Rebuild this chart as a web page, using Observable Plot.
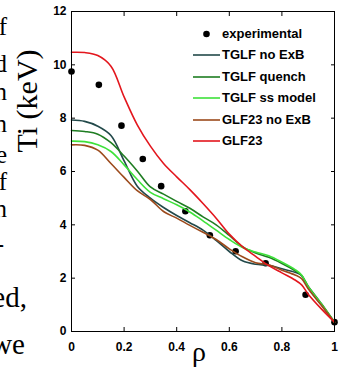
<!DOCTYPE html>
<html>
<head>
<meta charset="utf-8">
<script src="https://cdn.jsdelivr.net/npm/d3@7"></script>
<script src="https://cdn.jsdelivr.net/npm/@observablehq/plot@0.6"></script>
<style>
  html, body { margin: 0; padding: 0; background: #fff; overflow: hidden; }
  #wrap { position: relative; width: 342px; height: 367px; overflow: hidden; }
  #chart { position: absolute; left: 0; top: 0; }
  .frag { position: absolute; font-family: "Liberation Serif", "Times New Roman", serif; white-space: nowrap; line-height: 1; color: #000; }
  .leg { position: absolute; font: bold 13px "Liberation Sans", Arial, sans-serif; color: #000; white-space: nowrap; line-height: 16px; height: 16px; }
  .sw { position: absolute; }
</style>
</head>
<body>
<div id="wrap">
  <div id="chart"></div>
</div>
<script>
// ---------- data ----------
const rho = [0, 0.05, 0.1, 0.15, 0.2, 0.25, 0.3, 0.35, 0.4, 0.45, 0.5, 0.55, 0.6, 0.65, 0.7, 0.75, 0.8, 0.85, 0.875, 0.9, 0.95, 1.0];

const tglfNoExB   = [7.93, 7.88, 7.70, 7.35, 6.40, 5.45, 5.00, 4.65, 4.35, 4.08, 3.80, 3.42, 3.00, 2.65, 2.52, 2.48, 2.35, 2.22, 2.10, 1.65, 1.00, 0.35];
const tglfQuench  = [7.54, 7.50, 7.40, 7.08, 6.58, 6.02, 5.42, 5.15, 4.88, 4.62, 4.30, 4.00, 3.60, 3.18, 2.94, 2.78, 2.55, 2.28, 2.10, 1.70, 1.05, 0.35];
const tglfSS      = [7.14, 7.12, 7.00, 6.75, 6.25, 5.70, 5.22, 4.98, 4.75, 4.48, 4.15, 3.80, 3.45, 3.15, 2.98, 2.84, 2.60, 2.32, 2.12, 1.68, 1.03, 0.35];
const glf23NoExB  = [7.00, 6.98, 6.80, 6.30, 5.78, 5.28, 4.95, 4.50, 4.25, 3.98, 3.72, 3.45, 3.10, 2.80, 2.58, 2.50, 2.30, 2.12, 1.98, 1.60, 0.98, 0.35];
const glf23       = [10.47, 10.46, 10.35, 9.95, 8.80, 7.75, 6.95, 6.30, 5.80, 5.32, 4.80, 4.25, 3.65, 3.18, 2.82, 2.47, 2.20, 1.93, 1.75, 1.40, 0.85, 0.35];

const expRho = [0, 0.104, 0.19, 0.271, 0.341, 0.433, 0.526, 0.624, 0.738, 0.89, 1.0];
const expTi  = [9.75, 9.25, 7.72, 6.47, 5.45, 4.51, 3.61, 3.01, 2.56, 1.38, 0.35];

const seriesNames  = ["TGLF no ExB", "TGLF quench", "TGLF ss model", "GLF23 no ExB", "GLF23"];
const seriesColors = ["#22494a", "#1f7d22", "#3ee23a", "#9c4a1c", "#e3161d"];
const seriesValues = [tglfNoExB, tglfQuench, tglfSS, glf23NoExB, glf23];

const xTicks = [0, 0.2, 0.4, 0.6, 0.8, 1];
const yTicks = [0, 2, 4, 6, 8, 10, 12];
const xLabel = "ρ";
const yLabel = "Ti (keV)";
const expName = "experimental";

// cropped text of the surrounding page (only the word endings show)
const fragWords = ["of", "and", "in", "on", "the", "of", "in", "-", "used,", "we"];

// ---------- build tables ----------
const lineRows = [];
seriesValues.forEach((vals, s) => vals.forEach((v, i) => lineRows.push({series: seriesNames[s], rho: rho[i], ti: v})));
const expRows = expRho.map((r, i) => ({rho: r, ti: expTi[i]}));

// ---------- plot ----------
const chart = Plot.plot({
  width: 342,
  height: 367,
  marginLeft: 71,
  marginRight: 8,
  marginTop: 11,
  marginBottom: 36,
  style: {fontFamily: '"Liberation Sans", Arial, sans-serif', fontSize: "12px", fontWeight: "bold", background: "transparent", color: "#000"},
  x: {domain: [0, 1]},
  y: {domain: [0, 12]},
  color: {domain: seriesNames, range: seriesColors},
  marks: [
    Plot.dot(expRows, {x: "rho", y: "ti", r: 3.3, fill: "#000", stroke: null}),
    ...seriesNames.map(name => Plot.line(lineRows.filter(d => d.series === name), {x: "rho", y: "ti", stroke: "series", strokeWidth: 1.6, curve: "catmull-rom"})),
    Plot.frame({stroke: "#000", strokeWidth: 1}),
    // tick labels
    Plot.axisX({anchor: "bottom", ticks: xTicks, tickSize: 0, tickPadding: 11, label: null, tickFormat: d3.format("")}),
    Plot.axisY({anchor: "left", ticks: yTicks, tickSize: 0, tickPadding: 5, label: null, tickFormat: d3.format("")}),
    // inward tick marks on all four sides
    Plot.axisX({anchor: "bottom", ticks: xTicks, tickSize: -4, fill: "none", label: null}),
    Plot.axisX({anchor: "top", ticks: xTicks, tickSize: -4, fill: "none", label: null}),
    Plot.axisY({anchor: "left", ticks: yTicks, tickSize: -4, fill: "none", label: null}),
    Plot.axisY({anchor: "right", ticks: yTicks, tickSize: -4, fill: "none", label: null}),
    // axis titles
    Plot.text([yLabel], {text: d => d, frameAnchor: "left", rotate: -90, dx: -44, dy: -19, fontSize: 30, fontWeight: "normal", fontFamily: '"Liberation Serif", "Times New Roman", serif', fill: "#000"}),
    Plot.text([xLabel], {text: d => d, frameAnchor: "bottom", lineAnchor: "top", dx: -4, dy: 10, fontSize: 28, fontWeight: "normal", fontFamily: '"Liberation Serif", "Times New Roman", serif', fill: "#000"})
  ]
});
document.getElementById("chart").appendChild(chart);

// ---------- legend ----------
const wrap = document.getElementById("wrap");
const legTop = 34, legStep = 21.4, legLineX0 = 193, legLineX1 = 220, legTextX = 222;
const legendItems = [{name: expName, kind: "dot", color: "#000"}].concat(seriesNames.map((n, i) => ({name: n, kind: "line", color: seriesColors[i]})));
legendItems.forEach((it, i) => {
  const cy = legTop + i * legStep;
  const sw = document.createElementNS("http://www.w3.org/2000/svg", "svg");
  sw.setAttribute("class", "sw");
  sw.setAttribute("width", legLineX1 - legLineX0);
  sw.setAttribute("height", 10);
  sw.style.left = legLineX0 + "px";
  sw.style.top = (cy - 5) + "px";
  if (it.kind === "dot") {
    const c = document.createElementNS("http://www.w3.org/2000/svg", "circle");
    c.setAttribute("cx", (legLineX1 - legLineX0) / 2);
    c.setAttribute("cy", 5);
    c.setAttribute("r", 3.3);
    c.setAttribute("fill", it.color);
    sw.appendChild(c);
  } else {
    const l = document.createElementNS("http://www.w3.org/2000/svg", "line");
    l.setAttribute("x1", 0); l.setAttribute("x2", legLineX1 - legLineX0);
    l.setAttribute("y1", 5); l.setAttribute("y2", 5);
    l.setAttribute("stroke", it.color); l.setAttribute("stroke-width", 1.6);
    sw.appendChild(l);
  }
  wrap.appendChild(sw);
  const t = document.createElement("div");
  t.className = "leg";
  t.textContent = it.name;
  t.style.left = legTextX + "px";
  t.style.top = (cy - 8) + "px";
  wrap.appendChild(t);
});

// ---------- cropped page text at the left edge ----------
const fragLayout = [
  {baseline: 35, right: 7, size: 25},
  {baseline: 72, right: 7, size: 25},
  {baseline: 100, right: 7, size: 25},
  {baseline: 132, right: 7, size: 25},
  {baseline: 163, right: 7, size: 25},
  {baseline: 190, right: 7, size: 25},
  {baseline: 217, right: 7, size: 25},
  {baseline: 252, right: 4, size: 25},
  {baseline: 307, right: 27, size: 29},
  {baseline: 354, right: 25, size: 29}
];
fragWords.forEach((w, i) => {
  const L = fragLayout[i];
  const d = document.createElement("div");
  d.className = "frag";
  d.textContent = w;
  d.style.fontSize = L.size + "px";
  d.style.right = (342 - L.right) + "px";
  d.style.top = (L.baseline - 0.8375 * L.size) + "px";
  wrap.appendChild(d);
});
</script>
</body>
</html>
